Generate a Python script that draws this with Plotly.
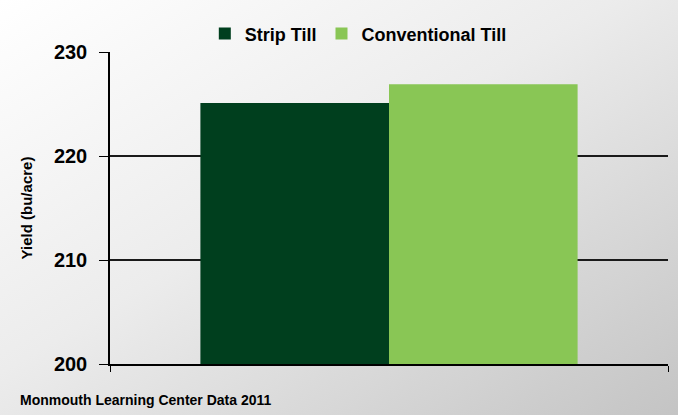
import plotly.graph_objects as go

# Yield by tillage practice
series = ["Strip Till", "Conventional Till"]
yields = [225.1, 226.9]
colors = ["#003F1E", "#89C655"]
category = [""]
y_ticks = [200, 210, 220, 230]

W, H = 678, 415
L, R, T, B = 110, 10, 52, 51
FONT = "Liberation Sans Narrow, Arial Narrow, sans-serif"

fig = go.Figure()
for name, val, col in zip(series, yields, colors):
    fig.add_trace(go.Bar(
        x=category, y=[val], name=f"<b>{name}</b>",
        marker=dict(color=col, line=dict(width=0)),
    ))

# soft diagonal gradient behind the chart
grad_svg = (
    "data:image/svg+xml;utf8,"
    "<svg xmlns='http://www.w3.org/2000/svg' width='678' height='415' preserveAspectRatio='none'>"
    "<defs><linearGradient id='g' x1='0' y1='0' x2='1' y2='1'>"
    "<stop offset='0' stop-color='%23ffffff'/>"
    "<stop offset='0.45' stop-color='%23ececec'/>"
    "<stop offset='1' stop-color='%23c4c4c4'/>"
    "</linearGradient></defs>"
    "<rect width='678' height='415' fill='url(%23g)'/></svg>"
)
pw, ph = W - L - R, H - T - B
fig.add_layout_image(dict(
    source=grad_svg, xref="paper", yref="paper",
    x=-L / pw, y=1 + T / ph, sizex=W / pw, sizey=H / ph,
    xanchor="left", yanchor="top", sizing="stretch", layer="below",
))

fig.update_layout(
    width=W, height=H,
    margin=dict(l=L, r=R, t=T, b=B, pad=0),
    paper_bgcolor="white",
    plot_bgcolor="rgba(0,0,0,0)",
    barmode="group",
    bargap=0.324,
    bargroupgap=0,
    font=dict(family=FONT, color="black"),
    showlegend=True,
    legend=dict(
        orientation="h", x=0.445, y=1.058, xanchor="center", yanchor="middle",
        font=dict(family=FONT, size=18, color="black"),
        bgcolor="rgba(0,0,0,0)", itemsizing="constant",
    ),
    xaxis=dict(
        showline=True, linecolor="black", linewidth=2,
        ticks="outside", tickson="boundaries", ticklen=6, tickcolor="black",
        showticklabels=False, showgrid=False, zeroline=False,
    ),
    yaxis=dict(
        range=[200, 230], tickvals=y_ticks,
        ticktext=[f"<b>{v}</b>" for v in y_ticks],
        tickfont=dict(family=FONT, size=20, color="black"),
        ticklabelstandoff=8,
        showline=True, linecolor="black", linewidth=1.5,
        ticks="outside", ticklen=9, tickcolor="black",
        showgrid=True, gridcolor="#1a1a1a", gridwidth=1.5,
        zeroline=False,
        title=dict(text="<b>Yield (bu/acre)</b>",
                   font=dict(family=FONT, size=15, color="black"), standoff=18),
    ),
    annotations=[dict(
        text="<b>Monmouth Learning Center Data 2011</b>",
        xref="paper", yref="paper", x=-L / pw + 18 / pw, y=-(400 - (H - B)) / ph,
        xanchor="left", yanchor="middle", showarrow=False,
        font=dict(family=FONT, size=14, color="black"),
    )],
)

fig.write_html("out.html")
